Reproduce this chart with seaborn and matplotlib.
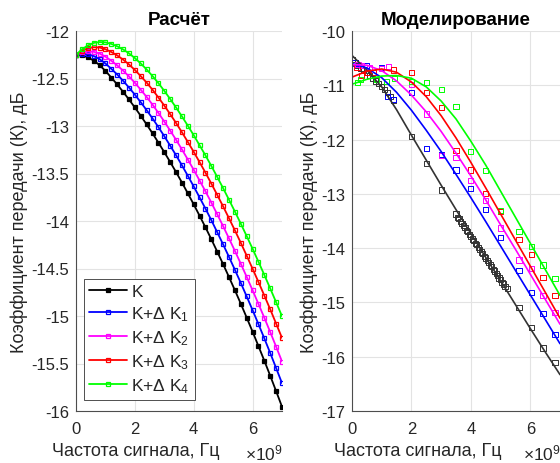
import numpy as np
import matplotlib
matplotlib.use("Agg")
import matplotlib.pyplot as plt
import seaborn as sns
from matplotlib.ticker import FuncFormatter, MultipleLocator

sns.set_theme(style="whitegrid")
plt.rcParams['font.family'] = ['Liberation Sans', 'DejaVu Sans']
plt.rcParams['mathtext.fontset'] = 'custom'
plt.rcParams['mathtext.rm'] = 'Liberation Sans'
plt.rcParams['mathtext.it'] = 'Liberation Sans:italic'

GHZ = 1e9

# ---- calculated transfer coefficient, dB (left panel) ----
calc_freq_ghz = np.linspace(0, 7, 36)
k_calc = [-12.250, -12.257, -12.277, -12.311, -12.359, -12.420, -12.490, -12.563, -12.640, -12.721,
          -12.805, -12.893, -12.983, -13.077, -13.175, -13.275, -13.379, -13.485, -13.595, -13.709,
          -13.825, -13.945, -14.067, -14.193, -14.323, -14.455, -14.591, -14.729, -14.871, -15.017,
          -15.165, -15.317, -15.471, -15.629, -15.791, -15.955]
k1_calc = [-12.250, -12.241, -12.245, -12.263, -12.296, -12.342, -12.398, -12.458, -12.524, -12.595,
           -12.670, -12.750, -12.833, -12.920, -13.012, -13.107, -13.207, -13.308, -13.414, -13.524,
           -13.636, -13.752, -13.870, -13.992, -14.119, -14.247, -14.379, -14.514, -14.652, -14.794,
           -14.938, -15.086, -15.236, -15.390, -15.548, -15.707]
k2_calc = [-12.250, -12.225, -12.215, -12.219, -12.237, -12.270, -12.313, -12.362, -12.417, -12.478,
           -12.545, -12.618, -12.694, -12.775, -12.862, -12.953, -13.048, -13.145, -13.247, -13.353,
           -13.461, -13.574, -13.688, -13.807, -13.930, -14.055, -14.184, -14.315, -14.450, -14.588,
           -14.729, -14.873, -15.019, -15.169, -15.323, -15.479]
k3_calc = [-12.250, -12.209, -12.182, -12.171, -12.174, -12.192, -12.221, -12.257, -12.301, -12.352,
           -12.410, -12.475, -12.543, -12.618, -12.700, -12.785, -12.875, -12.968, -13.066, -13.168,
           -13.272, -13.381, -13.492, -13.607, -13.726, -13.847, -13.972, -14.099, -14.230, -14.365,
           -14.502, -14.642, -14.785, -14.930, -15.080, -15.231]
k4_calc = [-12.250, -12.194, -12.152, -12.126, -12.116, -12.120, -12.136, -12.161, -12.194, -12.235,
           -12.285, -12.342, -12.405, -12.474, -12.549, -12.630, -12.716, -12.805, -12.899, -12.997,
           -13.097, -13.203, -13.310, -13.421, -13.537, -13.655, -13.777, -13.901, -14.028, -14.159,
           -14.292, -14.429, -14.568, -14.710, -14.855, -15.002]

# ---- simulated transfer coefficient, dB (right panel): fitted curves ----
sim_fit_ghz = np.linspace(0, 7, 15)
k_fit = [-10.45, -10.72, -11.03, -11.45, -11.92, -12.38, -12.84, -13.29, -13.73, -14.17,
         -14.60, -15.04, -15.48, -15.91, -16.33]
k1_fit = [-10.60, -10.68, -10.86, -11.13, -11.46, -11.83, -12.22, -12.64, -13.07, -13.51,
          -13.96, -14.41, -14.86, -15.31, -15.76]
k2_fit = [-10.62, -10.63, -10.73, -10.92, -11.18, -11.49, -11.85, -12.25, -12.67, -13.11,
          -13.57, -14.02, -14.48, -14.94, -15.40]
k3_fit = [-10.85, -10.74, -10.70, -10.76, -10.94, -11.21, -11.56, -11.97, -12.42, -12.89,
          -13.37, -13.85, -14.33, -14.81, -15.29]
k4_fit = [-10.98, -10.89, -10.83, -10.82, -10.87, -11.03, -11.29, -11.62, -12.03, -12.47,
          -12.95, -13.43, -13.91, -14.39, -14.87]

# ---- simulated transfer coefficient, dB (right panel): simulation points ----
k_pts_x = [0.0, 0.1, 0.2, 0.3, 0.4, 0.5, 0.6, 0.7, 0.8, 0.9, 1.0, 1.1, 1.2, 1.3, 1.4,
           2.0, 2.5, 3.0, 3.5,
           3.55, 3.60, 3.65, 3.70, 3.75, 3.80, 3.85, 3.90, 3.95, 4.00, 4.05, 4.10, 4.15, 4.20,
           4.25, 4.30, 4.35, 4.40, 4.45, 4.50, 4.55, 4.60, 4.65, 4.70, 4.75, 4.80, 4.85, 4.90,
           4.95, 5.00, 5.05, 5.10, 5.15,
           5.22, 5.62, 6.03, 6.43, 6.83]
k_pts_y = [-10.53, -10.58, -10.63, -10.68, -10.73, -10.77, -10.82, -10.87, -10.92, -10.97,
           -11.02, -11.08, -11.14, -11.20, -11.27,
           -11.95, -12.44, -12.93, -13.37,
           -13.43, -13.46, -13.51, -13.54, -13.59, -13.62, -13.67, -13.70, -13.75, -13.78, -13.83,
           -13.86, -13.91, -13.94, -13.99, -14.02, -14.07, -14.10, -14.15, -14.18, -14.23, -14.26,
           -14.31, -14.34, -14.39, -14.42, -14.47, -14.50, -14.55, -14.58, -14.63, -14.66, -14.71,
           -14.75, -15.09, -15.46, -15.84, -16.10]
k1_pts_x = [0.1, 0.5, 1.0, 1.2, 1.4, 2.0, 2.5, 3.0, 3.5, 4.0, 4.5, 5.0, 5.62, 6.03, 6.43, 6.83]
k1_pts_y = [-10.59, -10.64, -10.67, -11.21, -11.26, -11.13, -12.16, -12.28, -12.56, -12.90, -13.29,
            -13.80, -14.41, -14.82, -15.20, -15.59]
k2_pts_x = [0.2, 0.33, 0.6, 1.0, 1.23, 2.0, 2.5, 3.0, 3.5, 4.0, 4.5, 5.0, 5.62, 6.03, 6.43, 6.83]
k2_pts_y = [-10.61, -10.63, -10.67, -10.69, -10.65, -10.98, -11.53, -12.30, -12.33, -12.76, -13.12,
            -13.63, -14.22, -14.38, -14.87, -15.18]
k3_pts_x = [0.17, 0.33, 0.52, 0.72, 1.4, 2.0, 2.5, 3.0, 3.5, 4.0, 4.5, 5.0, 5.62, 6.03, 6.43, 6.83]
k3_pts_y = [-10.67, -10.82, -10.77, -10.76, -10.72, -10.77, -11.13, -11.41, -12.20, -12.56, -13.00,
            -13.33, -13.84, -14.11, -14.54, -14.87]
k4_pts_x = [0.18, 0.29, 0.82, 1.17, 1.43, 2.0, 2.5, 3.0, 3.5, 4.0, 4.5, 5.0, 5.62, 6.03, 6.43, 6.83]
k4_pts_y = [-10.95, -10.89, -10.90, -10.93, -10.88, -10.93, -10.95, -11.08, -11.39, -12.22, -12.57,
            -13.30, -13.69, -13.97, -14.31, -14.56]

labels = ['K', 'K+Δ K$_1$', 'K+Δ K$_2$', 'K+Δ K$_3$', 'K+Δ K$_4$']
colors = ['#000000', '#0000ff', '#ff00ff', '#ff0000', '#00ff00']
calc_series = [k_calc, k1_calc, k2_calc, k3_calc, k4_calc]
fit_series = [k_fit, k1_fit, k2_fit, k3_fit, k4_fit]
pts_series = [(k_pts_x, k_pts_y), (k1_pts_x, k1_pts_y), (k2_pts_x, k2_pts_y),
              (k3_pts_x, k3_pts_y), (k4_pts_x, k4_pts_y)]

fig = plt.figure(figsize=(5.6, 4.64), dpi=100)
ax1 = fig.add_axes([76 / 560, 1 - 412 / 464, 206 / 560, 380 / 464])
ax2 = fig.add_axes([352 / 560, 1 - 412 / 464, 208 / 560, 380 / 464])

axis_color = '#4d4d4d'
text_color = '#262626'
ghz_fmt = FuncFormatter(lambda v, _: f"{v / GHZ:.0f}")

for i, (vals, col, lab) in enumerate(zip(calc_series, colors, labels)):
    sns.lineplot(x=calc_freq_ghz * GHZ, y=vals, ax=ax1, color=col, lw=1.3,
                 marker='s', markersize=3.2, markeredgewidth=0.9,
                 markerfacecolor=col if i == 0 else 'none', markeredgecolor=col,
                 label=lab, estimator=None, sort=False)

for vals, (px, py), col in zip(fit_series, pts_series, colors):
    lc = '#333333' if col == '#000000' else col
    sns.lineplot(x=sim_fit_ghz * GHZ, y=vals, ax=ax2, color=lc, lw=1.2,
                 estimator=None, sort=False, legend=False)
    sns.scatterplot(x=np.array(px) * GHZ, y=py, ax=ax2, marker='s', s=14,
                    facecolor='none', edgecolor=lc, linewidth=0.7, legend=False)

# x-label centres (axes fraction) and panel settings
for ax, title, ylim, ystep, xlab_pos in [(ax1, 'Расчёт', (-16, -12), 0.5, 0.29),
                                         (ax2, 'Моделирование', (-17, -10), 1.0, 0.317)]:
    ax.set_xlim(0, 7 * GHZ)
    ax.set_ylim(*ylim)
    ax.xaxis.set_major_locator(MultipleLocator(2 * GHZ))
    ax.xaxis.set_major_formatter(ghz_fmt)
    ax.yaxis.set_major_locator(MultipleLocator(ystep))
    ax.yaxis.set_major_formatter(FuncFormatter(lambda v, _: f"{v:g}"))
    ax.set_facecolor('white')
    ax.grid(True, color='#e3e3e3', lw=0.8)
    for side in ('top', 'right'):
        ax.spines[side].set_visible(False)
    for side in ('left', 'bottom'):
        ax.spines[side].set_color(axis_color)
        ax.spines[side].set_linewidth(0.8)
    ax.tick_params(axis='both', direction='in', length=3, width=0.6, color=axis_color,
                   labelsize=12, labelcolor=text_color)
    ax.tick_params(axis='x', pad=7)
    ax.tick_params(axis='y', pad=5)
    ax.set_title(title, fontsize=13.5, fontweight='bold', color='black', pad=5)
    ax.set_xlabel('Частота сигнала, Гц', fontsize=13, color=text_color, labelpad=5)
    ax.xaxis.set_label_coords(xlab_pos, -0.082)
    ax.xaxis.label.set_va('top')
    ax.set_ylabel('Коэффициент передачи (К), дБ', fontsize=13, color=text_color, labelpad=2)
    width_px = ax.get_position().width * 560
    ax.text(1.0 - 37 / width_px, -0.083, r'$\times10^{9}$', transform=ax.transAxes,
            fontsize=12.5, color=text_color, ha='left', va='top')

leg = ax1.legend(loc='lower left', bbox_to_anchor=(0.02, 0.02), fontsize=12.5,
                 handlelength=2.2, handletextpad=0.25, labelspacing=0.3,
                 borderpad=0.3, frameon=True, fancybox=False, borderaxespad=0.2)
leg.get_frame().set_edgecolor('#333333')
leg.get_frame().set_linewidth(0.6)
leg.get_frame().set_facecolor('white')
leg.get_frame().set_alpha(1)
for t in leg.get_texts():
    t.set_color(text_color)

fig.savefig('out.png', dpi=100)
